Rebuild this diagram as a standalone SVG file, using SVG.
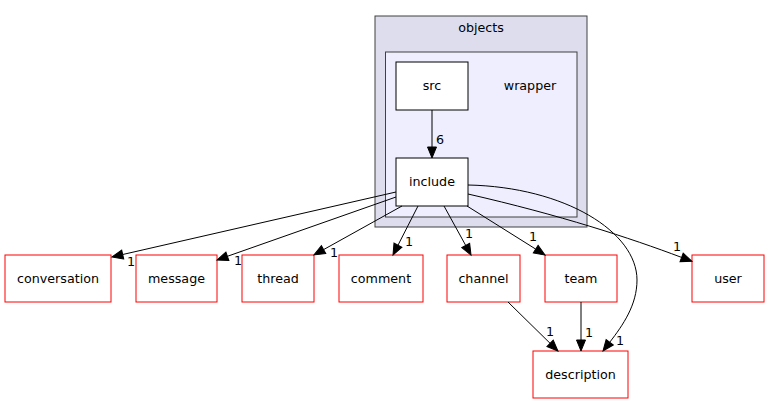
<svg xmlns="http://www.w3.org/2000/svg" width="769" height="404" viewBox="0 0 769 404">
<defs>
<style>
text{font-family:"DejaVu Sans","Liberation Sans",sans-serif;font-size:12.7px;fill:#000;text-anchor:middle}
.cl1{fill:#ddddee;stroke:#404040;stroke-width:1}
.cl2{fill:#eeeeff;stroke:#404040;stroke-width:1}
.nb{fill:#fff;stroke:#000;stroke-width:1}
.nr{fill:#fff;stroke:#ff0000;stroke-width:1}
.e{fill:none;stroke:#000;stroke-width:1;marker-end:url(#a)}
</style>
<marker id="a" markerWidth="11" markerHeight="9" refX="0" refY="4.5" orient="auto" markerUnits="userSpaceOnUse" overflow="visible">
<path d="M0,0 L11,4.5 L0,9 z" fill="#000" stroke="#000" stroke-width="1"/>
</marker>
</defs>
<rect width="769" height="404" fill="#fff"/>
<g id="cluster_objects">
<rect class="cl1" x="375" y="16" width="212" height="211"/>
<text x="481" y="32">objects</text>
</g>
<g id="cluster_wrapper">
<rect class="cl2" x="385.5" y="52" width="191.5" height="165"/>
<text x="530" y="90">wrapper</text>
</g>
<g id="node_src"><rect class="nb" x="396" y="62" width="72" height="48"/><text x="432" y="90">src</text></g>
<g id="node_include"><rect class="nb" x="396" y="158" width="72" height="48"/><text x="432" y="186">include</text></g>
<g id="node_conversation"><rect class="nr" x="5" y="255" width="106" height="47"/><text x="58" y="282.5">conversation</text></g>
<g id="node_message"><rect class="nr" x="136" y="255" width="81" height="47"/><text x="176.5" y="282.5">message</text></g>
<g id="node_thread"><rect class="nr" x="242" y="255" width="72" height="47"/><text x="278" y="282.5">thread</text></g>
<g id="node_comment"><rect class="nr" x="339" y="255" width="84" height="47"/><text x="381" y="282.5">comment</text></g>
<g id="node_channel"><rect class="nr" x="447" y="255" width="73" height="47"/><text x="483.5" y="282.5">channel</text></g>
<g id="node_team"><rect class="nr" x="545" y="255" width="72" height="47"/><text x="581" y="282.5">team</text></g>
<g id="node_user"><rect class="nr" x="692" y="255" width="72" height="47"/><text x="728" y="282.5">user</text></g>
<g id="node_description"><rect class="nr" x="533" y="351" width="95" height="47"/><text x="580.5" y="378.5">description</text></g>
<g id="connectors">
<path class="e" d="M432,110 L432,147"/>
<text x="440" y="144">6</text>
<path class="e" d="M396,192 L122.7,254.5"/>
<text x="131" y="266">1</text>
<path class="e" d="M396,197 L227.4,256.3"/>
<text x="238" y="265">1</text>
<path class="e" d="M402,206 L323.6,249.6"/>
<text x="334" y="257">1</text>
<path class="e" d="M418,206 L398,245.2"/>
<text x="409" y="246">1</text>
<path class="e" d="M444,206 L465.7,245.4"/>
<text x="469" y="238">1</text>
<path class="e" d="M467,206 L535.7,249.1"/>
<text x="533" y="241">1</text>
<path class="e" d="M468,194 C560,215 630,238 681.6,257.4"/>
<text x="677" y="251">1</text>
<path class="e" d="M468,185 C565,187 637,232 637,280 C637,305 623,325 609.7,342.3"/>
<text x="620" y="345">1</text>
<path class="e" d="M508,302 L550.1,343.3"/>
<text x="550" y="336">1</text>
<path class="e" d="M581,302 L581,340"/>
<text x="589" y="337">1</text>
</g>
</svg>
